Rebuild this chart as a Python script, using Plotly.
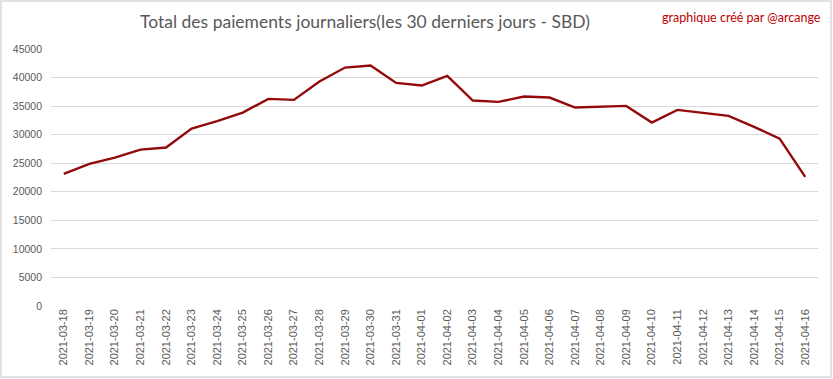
import plotly.graph_objects as go

dates = ["2021-03-18", "2021-03-19", "2021-03-20", "2021-03-21", "2021-03-22", "2021-03-23",
         "2021-03-24", "2021-03-25", "2021-03-26", "2021-03-27", "2021-03-28", "2021-03-29",
         "2021-03-30", "2021-03-31", "2021-04-01", "2021-04-02", "2021-04-03", "2021-04-04",
         "2021-04-05", "2021-04-06", "2021-04-07", "2021-04-08", "2021-04-09", "2021-04-10",
         "2021-04-11", "2021-04-12", "2021-04-13", "2021-04-14", "2021-04-15", "2021-04-16"]
payouts = [23125, 24880, 25990, 27390, 27740, 31070, 32360, 33870, 36270, 36090, 39300, 41750,
           42100, 39070, 38600, 40300, 35970, 35740, 36670, 36500, 34750, 34870, 35040, 32120,
           34340, 33810, 33290, 31360, 29310, 22600]
y_ticks = [0, 5000, 10000, 15000, 20000, 25000, 30000, 35000, 40000, 45000]
y_tick_labels = [str(v) for v in y_ticks]

title_text = "Total des paiements journaliers(les 30 derniers jours - SBD)"
credit_text = "graphique créé par @arcange"

TITLE_FONT = "Lato, Liberation Sans, Arial, sans-serif"
TICK_FONT = "Liberation Sans, Arial, sans-serif"

fig = go.Figure()
fig.add_trace(go.Scatter(
    x=dates, y=payouts, mode="lines",
    line=dict(color="#940a0a", width=2.4),
    hoverinfo="x+y",
))

W, H = 833, 379
ml, mr, mt, mb = 51, 15, 49, 73
pw, ph = W - ml - mr, H - mt - mb

def px_x(p):
    return (p - ml) / pw

def px_y(p):
    return (H - mb - p) / ph

fig.update_layout(
    width=W, height=H,
    margin=dict(l=ml, r=mr, t=mt, b=mb, autoexpand=False),
    paper_bgcolor="white", plot_bgcolor="white",
    showlegend=False,
    font=dict(family=TICK_FONT, color="#595959", size=11),
    xaxis=dict(
        type="category", tickangle=-90, showgrid=False, zeroline=False,
        showline=False, ticks="", tickfont=dict(size=11, color="#595959"),
        range=[-0.5, len(dates) - 0.5], automargin=False,
    ),
    yaxis=dict(
        range=[0, 45000], tickvals=y_ticks, ticktext=y_tick_labels,
        showgrid=True, gridcolor="#d9d9d9",
        gridwidth=1, zeroline=False, showline=False, ticks="",
        tickfont=dict(size=10.5, color="#595959"), ticklabelstandoff=8,
        automargin=False,
    ),
    annotations=[
        dict(text=title_text, xref="paper", yref="paper",
             x=px_x(365), y=px_y(22), xanchor="center", yanchor="middle",
             showarrow=False, font=dict(size=17.5, color="#595959", family=TITLE_FONT)),
        dict(text=credit_text, xref="paper", yref="paper",
             x=px_x(823), y=px_y(17), xanchor="right", yanchor="middle",
             showarrow=False, font=dict(size=12.5, color="#c00000", family=TITLE_FONT)),
    ],
    shapes=[
        dict(type="rect", xref="paper", yref="paper",
             x0=px_x(1), x1=px_x(831), y0=px_y(377), y1=px_y(1),
             line=dict(color="#d9d9d9", width=1.5), fillcolor="rgba(0,0,0,0)", layer="below"),
    ],
)

fig.write_html("out.html", config={"displayModeBar": False},
               post_script="document.body.style.margin='0';")
